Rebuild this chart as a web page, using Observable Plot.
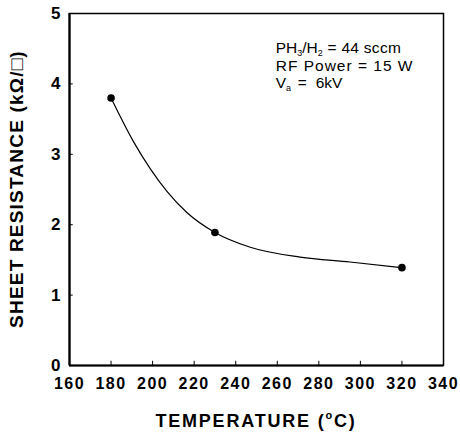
<!DOCTYPE html>
<html>
<head>
<meta charset="utf-8">
<script src="https://cdn.jsdelivr.net/npm/d3@7"></script>
<script src="https://cdn.jsdelivr.net/npm/@observablehq/plot@0.6"></script>
<style>
  html, body { margin: 0; padding: 0; background: #fff; }
  svg { overflow: visible; }
</style>
</head>
<body>
<div id="chart"></div>
<script>
// measured points
const temperature = [180, 230, 320];
const resistance = [3.8, 1.89, 1.39];
// drawn fit curve
const fitT = [180, 191, 199, 207, 216.6, 230, 247, 271, 295, 320];
const fitR = [3.8, 3.17, 2.79, 2.47, 2.17, 1.89, 1.68, 1.54, 1.47, 1.39];
const xTicks = [160, 180, 200, 220, 240, 260, 280, 300, 320, 340];
const yTicks = [0, 1, 2, 3, 4, 5];

const pts = temperature.map((t, i) => ({t, r: resistance[i]}));
const fit = fitT.map((t, i) => ({t, r: fitR[i]}));

const font = "'Liberation Sans', Arial, sans-serif";

const plot = Plot.plot({
  width: 460,
  height: 432,
  marginLeft: 69,
  marginRight: 17,
  marginTop: 13,
  marginBottom: 67,
  style: {fontFamily: font, background: "#fff", color: "#000"},
  x: {domain: [160, 340], ticks: xTicks},
  y: {domain: [0, 5], ticks: yTicks},
  marks: [
    Plot.frame({stroke: "#000", strokeWidth: 1.5}),
    Plot.ruleX([160], {stroke: "#000", strokeWidth: 2.2}),
    Plot.ruleY([0], {stroke: "#000", strokeWidth: 2.2}),
    Plot.ruleX(xTicks, {y1: 0, y2: 0.06, stroke: "#000", strokeWidth: 1}),
    Plot.ruleY(yTicks, {x1: 160, x2: 161.8, stroke: "#000", strokeWidth: 1}),
    Plot.axisX({ticks: xTicks, tickSize: 0, tickPadding: 12, fontSize: 16, fontWeight: "bold", label: null, tickFormat: d => String(d)}),
    Plot.axisY({ticks: yTicks, tickSize: 0, tickPadding: 9, fontSize: 17, fontWeight: "bold", label: null, tickFormat: d => String(d)}),
    Plot.line(fit, {x: "t", y: "r", curve: "monotone-x", stroke: "#000", strokeWidth: 1.2}),
    Plot.dot(pts, {x: "t", y: "r", r: 3.8, fill: "#000", stroke: "none"})
  ]
});

document.getElementById("chart").appendChild(plot);

const svg = d3.select(plot);
svg.selectAll("g[aria-label='x-axis tick label'] text").style("letter-spacing", "1.5px");

const sx = plot.scale("x"), sy = plot.scale("y");

// annotation
const ax = sx.apply(259.5);
const ann = svg.append("g").attr("font-family", font).attr("font-size", 15.5).attr("fill", "#000").attr("text-anchor", "start");
let t1 = ann.append("text").attr("x", ax).attr("y", sy.apply(4.43));
t1.append("tspan").text("PH");
t1.append("tspan").attr("font-size", 9).attr("dy", 3).text("3");
t1.append("tspan").attr("dy", -3).text("/H");
t1.append("tspan").attr("font-size", 9).attr("dy", 3).text("2");
t1.append("tspan").attr("dy", -3).style("letter-spacing", "0.3px").text(" = 44 sccm");
ann.append("text").attr("x", ax).attr("y", sy.apply(4.175)).style("letter-spacing", "1px").text("RF Power = 15 W");
let t3 = ann.append("text").attr("x", ax).attr("y", sy.apply(3.94));
t3.append("tspan").text("V");
t3.append("tspan").attr("font-size", 9).attr("dy", 3).text("a");
t3.append("tspan").attr("dy", -3).attr("x", ax + 22).text("=");
t3.append("tspan").attr("x", ax + 40).text("6kV");

// axis titles
const xl = svg.append("text")
  .attr("x", (sx.apply(160) + sx.apply(340)) / 2)
  .attr("y", 427)
  .attr("text-anchor", "middle")
  .style("letter-spacing", "1.8px")
  .attr("font-family", font).attr("font-size", 18).attr("font-weight", "bold").attr("fill", "#000");
xl.append("tspan").text("TEMPERATURE (");
xl.append("tspan").attr("font-size", 11).attr("dy", -8).text("o");
xl.append("tspan").attr("dy", 8).text("C)");

svg.append("text")
  .attr("transform", `translate(23,${(sy.apply(0) + sy.apply(5)) / 2 + 0}) rotate(-90)`)
  .attr("text-anchor", "middle")
  .style("letter-spacing", "1.2px")
  .attr("font-family", font).attr("font-size", 19).attr("font-weight", "bold").attr("fill", "#000")
  .text("SHEET RESISTANCE (kΩ/□)");
</script>
</body>
</html>
